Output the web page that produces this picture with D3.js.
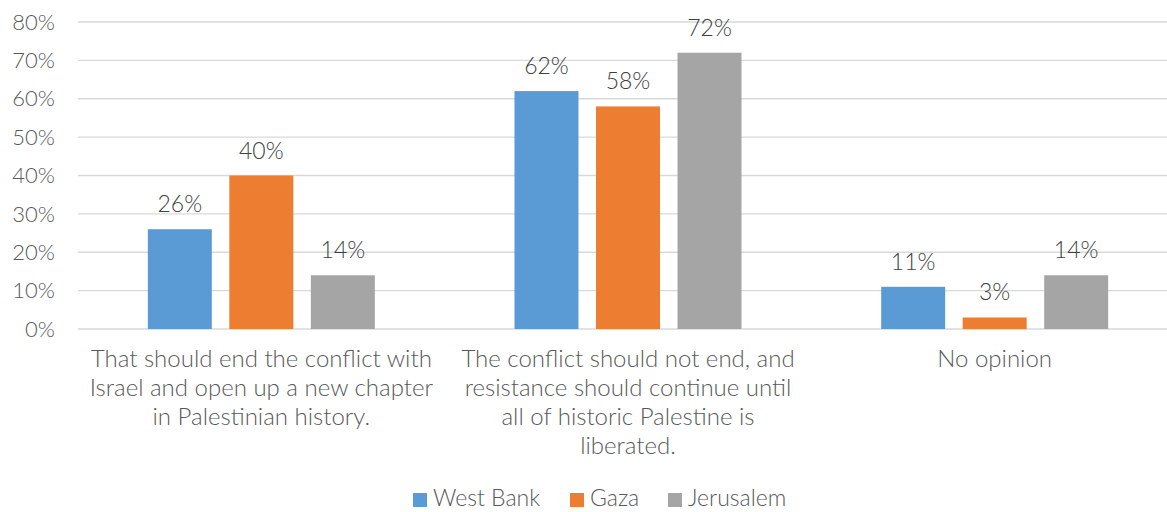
<!DOCTYPE html>
<html>
<head>
<meta charset="utf-8">
<script src="https://cdn.jsdelivr.net/npm/d3@7"></script>
<style>
  body { margin: 0; background: #fff; }
  svg { display: block; font-family: Lato, "Open Sans", sans-serif; font-weight: 300; }
</style>
</head>
<body>
<svg id="chart" width="1167" height="512"></svg>
<script>
// data
let categories = [
    ["That should end the conflict with", "Israel and open up a new chapter", "in Palestinian history."],
    ["The conflict should not end, and", "resistance should continue until", "all of historic Palestine is", "liberated."],
    ["No opinion"]
];
let series = ["West Bank", "Gaza", "Jerusalem"];
let westBank = [26, 62, 11];
let gaza = [40, 58, 3];
let jerusalem = [14, 72, 14];
let yTicks = [0, 10, 20, 30, 40, 50, 60, 70, 80];

let colors = ["#5B9BD5", "#ED7D31", "#A5A5A5"];
let values = [westBank, gaza, jerusalem];

let svg = d3.select("#chart");
let margin = { left: 78, right: -11, top: 22, bottom: 183 };
let width = 1167 - margin.left - margin.right,
    height = 512 - margin.top - margin.bottom;

let chart = svg.append("g")
    .attr("transform", "translate(" + margin.left + "," + margin.top + ")");

let x0 = d3.scaleBand()
    .domain(d3.range(categories.length))
    .range([0, width]);

let groupW = 227;
let x1 = d3.scaleBand()
    .domain(d3.range(series.length))
    .range([0, groupW])
    .paddingInner(0.215)
    .paddingOuter(0);

let y = d3.scaleLinear()
    .domain([0, 80])
    .range([height, 0]);

// gridlines
chart.selectAll("line.grid")
    .data(yTicks)
    .enter().append("line")
    .attr("class", "grid")
    .attr("x1", 0)
    .attr("x2", width)
    .attr("y1", d => y(d))
    .attr("y2", d => y(d))
    .attr("stroke", "#D9D9D9")
    .attr("stroke-width", 1.4);

// y axis labels
chart.selectAll("text.ytick")
    .data(yTicks)
    .enter().append("text")
    .attr("class", "ytick")
    .attr("x", -23)
    .attr("y", d => y(d))
    .attr("dy", "0.35em")
    .attr("text-anchor", "end")
    .attr("fill", "#595959")
    .style("font-size", "22px")
    .text(d => d + "%");

// bars
let groups = chart.selectAll("g.group")
    .data(categories)
    .enter().append("g")
    .attr("class", "group")
    .attr("transform", (d, i) => "translate(" + (x0(i) + x0.bandwidth() / 2 - groupW / 2) + ",0)");

groups.each(function(c, ci) {
    let g = d3.select(this);
    let rows = series.map((s, si) => ({ si: si, v: values[si][ci] }));
    g.selectAll("rect")
        .data(rows)
        .enter().append("rect")
        .attr("x", d => x1(d.si))
        .attr("width", x1.bandwidth())
        .attr("y", d => y(d.v))
        .attr("height", d => y(0) - y(d.v))
        .attr("fill", d => colors[d.si]);
    g.selectAll("text.lbl")
        .data(rows)
        .enter().append("text")
        .attr("class", "lbl")
        .attr("x", d => x1(d.si) + x1.bandwidth() / 2)
        .attr("y", d => y(d.v) - 17)
        .attr("text-anchor", "middle")
        .attr("fill", "#404040")
        .style("font-size", "23px")
        .text(d => d.v + "%");
});

// category labels
chart.selectAll("text.cat")
    .data(categories)
    .enter().append("text")
    .attr("class", "cat")
    .attr("text-anchor", "middle")
    .attr("fill", "#595959")
    .style("font-size", "24px")
    .attr("transform", (d, i) => "translate(" + (x0(i) + x0.bandwidth() / 2) + "," + (height + 38) + ")")
    .selectAll("tspan")
    .data(d => d)
    .enter().append("tspan")
    .attr("x", 0)
    .attr("dy", (d, i) => i > 0 ? 29 : 0)
    .text(d => d);

// legend
let legendX = [413, 570, 668];
let legend = svg.selectAll("g.legend")
    .data(series)
    .enter().append("g")
    .attr("class", "legend")
    .attr("transform", (d, i) => "translate(" + legendX[i] + ",493)");

legend.append("rect")
    .attr("width", 14)
    .attr("height", 14)
    .attr("fill", (d, i) => colors[i]);

legend.append("text")
    .attr("x", 20)
    .attr("y", 13)
    .attr("fill", "#595959")
    .style("font-size", "23px")
    .text(d => d);
</script>
</body>
</html>
